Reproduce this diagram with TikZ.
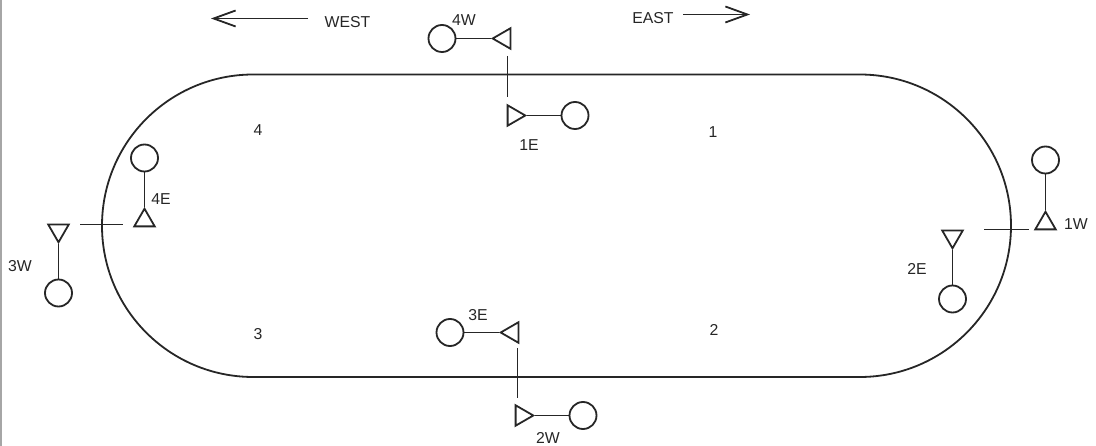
\documentclass[tikz,border=0pt]{standalone}
\usepackage{fontspec}
\setmainfont{Liberation Sans}
\usetikzlibrary{shapes.geometric,arrows.meta}
\tikzset{
  lamp/.style={draw,circle,minimum size=27pt,inner sep=0pt},
  horn/.style={draw,regular polygon,regular polygon sides=3,minimum size=23.6pt,inner sep=0pt,shape border rotate=#1},
  lbl/.style={inner sep=0pt,font=\fontsize{15.8}{16}\selectfont,text=black!85}
}
\begin{document}
\begin{tikzpicture}[x=1pt,y=-1pt,line width=1.8pt,color=black!85]
      \useasboundingbox (0,0) rectangle (1096,446);
      \fill[black!35] (0,0) rectangle (1.5,446);
      \draw[rounded corners=151.25pt] (102,74.5) rectangle (1011,377);
      \draw
        (442,38.5) node[lamp] (c4W){}
        (504.5,38.5) node[horn=90] (t4W){}
        (575,115.5) node[lamp] (c1E){}
        (513.5,115.5) node[horn=-90] (t1E){}
        (450,332.5) node[lamp] (c3E){}
        (512.5,332.5) node[horn=90] (t3E){}
        (583,415.5) node[lamp] (c2W){}
        (521.5,415.5) node[horn=-90] (t2W){}
        (144.5,158) node[lamp] (c4E){}
        (144.5,220.5) node[horn=0] (t4E){}
        (58.5,293) node[lamp] (c3W){}
        (58.5,230.5) node[horn=180] (t3W){}
        (1045.5,160) node[lamp] (c1W){}
        (1045.5,223.5) node[horn=0] (t1W){}
        (952.5,299) node[lamp] (c2E){}
        (952.5,236.5) node[horn=180] (t2E){};
      \coordinate (n1) at (507.5,56);
      \coordinate (n2) at (507.5,97.5);
      \coordinate (s1) at (517.5,348);
      \coordinate (s2) at (517.5,398);
      \coordinate (w1) at (80,224.5);
      \coordinate (w2) at (122.5,224.5);
      \coordinate (e1) at (984,229.5);
      \coordinate (e2) at (1029,229.5);
      \coordinate (wa1) at (308,18.5);
      \coordinate (wa2) at (211,18.5);
      \coordinate (ea1) at (683,14.5);
      \coordinate (ea2) at (750,14.5);
      \begin{scope}[-]
        \draw (c4W) to (t4W.corner 1);
        \draw (c1E) to (t1E.corner 1);
        \draw (c3E) to (t3E.corner 1);
        \draw (c2W) to (t2W.corner 1);
        \draw (c4E) to (t4E.corner 1);
        \draw (c3W) to (t3W.corner 1);
        \draw (c1W) to (t1W.corner 1);
        \draw (c2E) to (t2E.corner 1);
        \draw (n1) to (n2);
        \draw (s1) to (s2);
        \draw (w1) to (w2);
        \draw (e1) to (e2);
      \end{scope}
      \begin{scope}[->,>={Straight Barb[length=22pt,width=16pt]}]
        \draw (wa1) to (wa2);
        \draw (ea1) to (ea2);
      \end{scope}
      \path
        (347.5,22) node[lbl] (west){WEST}
        (653,18) node[lbl] (east){EAST}
        (464,20) node[lbl] (l4W){4W}
        (529,145) node[lbl] (l1E){1E}
        (478,315) node[lbl] (l3E){3E}
        (548,438) node[lbl] (l2W){2W}
        (161,199) node[lbl] (l4E){4E}
        (20,266.5) node[lbl] (l3W){3W}
        (1076,224) node[lbl] (l1W){1W}
        (917,269) node[lbl] (l2E){2E}
        (258,130) node[lbl] (q4){4}
        (713,132) node[lbl] (q1){1}
        (258,334) node[lbl] (q3){3}
        (714,330) node[lbl] (q2){2};
    \end{tikzpicture}
\end{document}
